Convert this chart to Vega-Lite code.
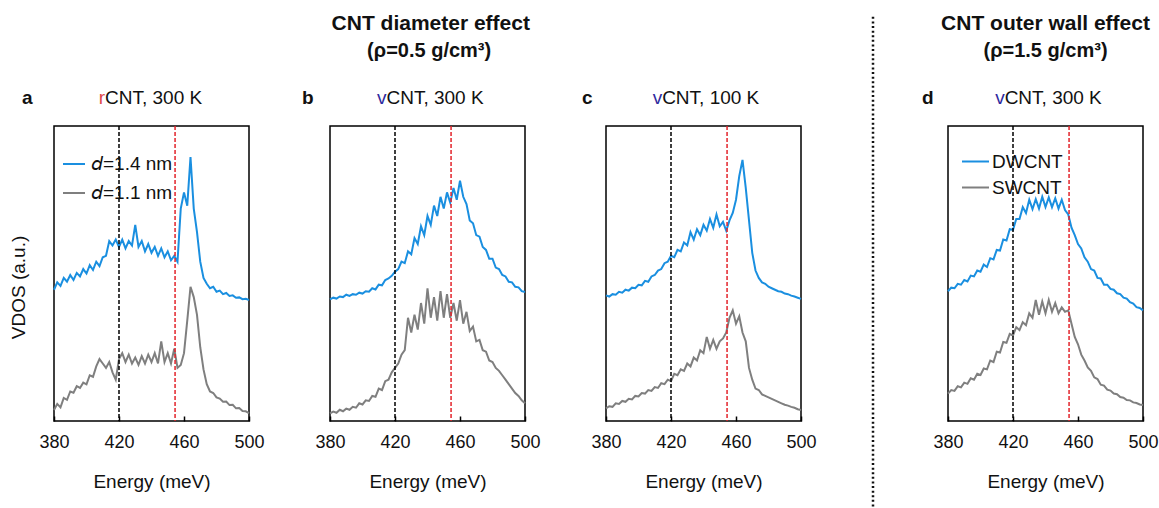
{
"$schema":"https://vega.github.io/schema/vega-lite/v6.json",
"padding":{"left":8,"top":12,"right":5,"bottom":0},
"config":{
 "font":"Liberation Sans",
 "view":{"stroke":"black","strokeWidth":1.5},
 "axis":{"labelFont":"Liberation Sans","titleFont":"Liberation Sans","labelColor":"#111","titleColor":"#111","labelFontSize":18,"titleFontSize":19,"titleFontWeight":"normal","grid":false,"labelFlush":false,"labelOverlap":false,"ticks":true},
 "legend":{"labelFont":"Liberation Sans","labelFontSize":19,"labelColor":"#111"}
},
"datasets":{
"a":[{"s":1,"e":380,"v":44.5},{"s":1,"e":382,"v":47},{"s":1,"e":384,"v":45.8},{"s":1,"e":386,"v":48.5},{"s":1,"e":388,"v":47.2},{"s":1,"e":390,"v":49.5},{"s":1,"e":392,"v":47.8},{"s":1,"e":394,"v":50.2},{"s":1,"e":396,"v":49},{"s":1,"e":398,"v":51.5},{"s":1,"e":400,"v":50},{"s":1,"e":402,"v":52.8},{"s":1,"e":404,"v":51.2},{"s":1,"e":406,"v":54},{"s":1,"e":408,"v":52.5},{"s":1,"e":410,"v":55.5},{"s":1,"e":412,"v":56},{"s":1,"e":414,"v":61},{"s":1,"e":416,"v":59.5},{"s":1,"e":418,"v":61.5},{"s":1,"e":420,"v":59},{"s":1,"e":422,"v":61.5},{"s":1,"e":424,"v":58.5},{"s":1,"e":426,"v":61},{"s":1,"e":428,"v":59.5},{"s":1,"e":430,"v":66.5},{"s":1,"e":432,"v":59},{"s":1,"e":434,"v":61},{"s":1,"e":436,"v":57.5},{"s":1,"e":438,"v":60},{"s":1,"e":440,"v":57},{"s":1,"e":442,"v":59},{"s":1,"e":444,"v":56},{"s":1,"e":446,"v":58.5},{"s":1,"e":448,"v":55.5},{"s":1,"e":450,"v":57.5},{"s":1,"e":452,"v":54.5},{"s":1,"e":454,"v":56},{"s":1,"e":456,"v":54},{"s":1,"e":458,"v":72},{"s":1,"e":460,"v":77.5},{"s":1,"e":462,"v":73},{"s":1,"e":464,"v":89.5},{"s":1,"e":466,"v":72},{"s":1,"e":468,"v":64},{"s":1,"e":470,"v":54},{"s":1,"e":472,"v":48.5},{"s":1,"e":474,"v":46.5},{"s":1,"e":476,"v":45},{"s":1,"e":478,"v":45.5},{"s":1,"e":480,"v":43.8},{"s":1,"e":482,"v":44.2},{"s":1,"e":484,"v":43},{"s":1,"e":486,"v":43.4},{"s":1,"e":488,"v":42.4},{"s":1,"e":490,"v":42.6},{"s":1,"e":492,"v":41.8},{"s":1,"e":494,"v":41.9},{"s":1,"e":496,"v":41.3},{"s":1,"e":498,"v":41.4},{"s":1,"e":500,"v":41},
{"s":2,"e":380,"v":3.7},{"s":2,"e":382,"v":5.8},{"s":2,"e":384,"v":4.6},{"s":2,"e":386,"v":7.8},{"s":2,"e":388,"v":7.2},{"s":2,"e":390,"v":10},{"s":2,"e":392,"v":9.6},{"s":2,"e":394,"v":11.8},{"s":2,"e":396,"v":11.2},{"s":2,"e":398,"v":13},{"s":2,"e":400,"v":12.4},{"s":2,"e":402,"v":15.5},{"s":2,"e":404,"v":15},{"s":2,"e":406,"v":18.5},{"s":2,"e":408,"v":21},{"s":2,"e":410,"v":19.5},{"s":2,"e":412,"v":18},{"s":2,"e":414,"v":20},{"s":2,"e":416,"v":16.5},{"s":2,"e":418,"v":14},{"s":2,"e":420,"v":21},{"s":2,"e":422,"v":23},{"s":2,"e":424,"v":20},{"s":2,"e":426,"v":22.5},{"s":2,"e":428,"v":19.5},{"s":2,"e":430,"v":21.5},{"s":2,"e":432,"v":19},{"s":2,"e":434,"v":22},{"s":2,"e":436,"v":19.5},{"s":2,"e":438,"v":22.5},{"s":2,"e":440,"v":20},{"s":2,"e":442,"v":23},{"s":2,"e":444,"v":19.5},{"s":2,"e":446,"v":27},{"s":2,"e":448,"v":20},{"s":2,"e":450,"v":23},{"s":2,"e":452,"v":19.5},{"s":2,"e":454,"v":24.5},{"s":2,"e":456,"v":18},{"s":2,"e":458,"v":19},{"s":2,"e":460,"v":23},{"s":2,"e":462,"v":34},{"s":2,"e":464,"v":45.5},{"s":2,"e":466,"v":42},{"s":2,"e":468,"v":36},{"s":2,"e":470,"v":25},{"s":2,"e":472,"v":17.5},{"s":2,"e":474,"v":12.5},{"s":2,"e":476,"v":10},{"s":2,"e":478,"v":9.5},{"s":2,"e":480,"v":8},{"s":2,"e":482,"v":7.6},{"s":2,"e":484,"v":6.5},{"s":2,"e":486,"v":6.6},{"s":2,"e":488,"v":5.4},{"s":2,"e":490,"v":5.5},{"s":2,"e":492,"v":4.3},{"s":2,"e":494,"v":4.4},{"s":2,"e":496,"v":3.4},{"s":2,"e":498,"v":3.3},{"s":2,"e":500,"v":2.7}],
"b":[{"s":1,"e":380,"v":41.2},{"s":1,"e":382,"v":41.8},{"s":1,"e":384,"v":41.5},{"s":1,"e":386,"v":42.2},{"s":1,"e":388,"v":42},{"s":1,"e":390,"v":42.8},{"s":1,"e":392,"v":42.4},{"s":1,"e":394,"v":43},{"s":1,"e":396,"v":42.8},{"s":1,"e":398,"v":43.5},{"s":1,"e":400,"v":43.2},{"s":1,"e":402,"v":44},{"s":1,"e":404,"v":43.8},{"s":1,"e":406,"v":45},{"s":1,"e":408,"v":44.6},{"s":1,"e":410,"v":46.2},{"s":1,"e":412,"v":46},{"s":1,"e":414,"v":47.8},{"s":1,"e":416,"v":48.3},{"s":1,"e":418,"v":49.2},{"s":1,"e":420,"v":50.6},{"s":1,"e":422,"v":51.5},{"s":1,"e":424,"v":54},{"s":1,"e":426,"v":53.5},{"s":1,"e":428,"v":57.5},{"s":1,"e":430,"v":56.5},{"s":1,"e":432,"v":62},{"s":1,"e":434,"v":60},{"s":1,"e":436,"v":66},{"s":1,"e":438,"v":63},{"s":1,"e":440,"v":69.5},{"s":1,"e":442,"v":66.5},{"s":1,"e":444,"v":73},{"s":1,"e":446,"v":69.5},{"s":1,"e":448,"v":76},{"s":1,"e":450,"v":72},{"s":1,"e":452,"v":77.5},{"s":1,"e":454,"v":74},{"s":1,"e":456,"v":79},{"s":1,"e":458,"v":75},{"s":1,"e":460,"v":81.5},{"s":1,"e":462,"v":76},{"s":1,"e":464,"v":73.5},{"s":1,"e":466,"v":68},{"s":1,"e":468,"v":67},{"s":1,"e":470,"v":63},{"s":1,"e":472,"v":62.5},{"s":1,"e":474,"v":59},{"s":1,"e":476,"v":58},{"s":1,"e":478,"v":55},{"s":1,"e":480,"v":55},{"s":1,"e":482,"v":52},{"s":1,"e":484,"v":51.5},{"s":1,"e":486,"v":49.5},{"s":1,"e":488,"v":49},{"s":1,"e":490,"v":47.2},{"s":1,"e":492,"v":47},{"s":1,"e":494,"v":45.5},{"s":1,"e":496,"v":45.3},{"s":1,"e":498,"v":44},{"s":1,"e":500,"v":43.7},
{"s":2,"e":380,"v":2.6},{"s":2,"e":382,"v":3.2},{"s":2,"e":384,"v":2.8},{"s":2,"e":386,"v":3.8},{"s":2,"e":388,"v":3.3},{"s":2,"e":390,"v":4.2},{"s":2,"e":392,"v":3.8},{"s":2,"e":394,"v":4.8},{"s":2,"e":396,"v":4.5},{"s":2,"e":398,"v":6},{"s":2,"e":400,"v":5.6},{"s":2,"e":402,"v":7},{"s":2,"e":404,"v":6.8},{"s":2,"e":406,"v":8.5},{"s":2,"e":408,"v":8.2},{"s":2,"e":410,"v":11},{"s":2,"e":412,"v":10.5},{"s":2,"e":414,"v":13.5},{"s":2,"e":416,"v":14},{"s":2,"e":418,"v":16.5},{"s":2,"e":420,"v":18},{"s":2,"e":422,"v":19.5},{"s":2,"e":424,"v":22.5},{"s":2,"e":426,"v":24},{"s":2,"e":428,"v":35},{"s":2,"e":430,"v":30},{"s":2,"e":432,"v":36},{"s":2,"e":434,"v":31},{"s":2,"e":436,"v":40},{"s":2,"e":438,"v":33},{"s":2,"e":440,"v":45},{"s":2,"e":442,"v":35},{"s":2,"e":444,"v":42},{"s":2,"e":446,"v":34},{"s":2,"e":448,"v":44},{"s":2,"e":450,"v":35},{"s":2,"e":452,"v":43},{"s":2,"e":454,"v":35},{"s":2,"e":456,"v":40},{"s":2,"e":458,"v":34},{"s":2,"e":460,"v":41},{"s":2,"e":462,"v":33},{"s":2,"e":464,"v":37},{"s":2,"e":466,"v":30.5},{"s":2,"e":468,"v":32},{"s":2,"e":470,"v":27},{"s":2,"e":472,"v":27.5},{"s":2,"e":474,"v":24},{"s":2,"e":476,"v":23.5},{"s":2,"e":478,"v":20.5},{"s":2,"e":480,"v":20},{"s":2,"e":482,"v":18},{"s":2,"e":484,"v":17},{"s":2,"e":486,"v":15.5},{"s":2,"e":488,"v":14},{"s":2,"e":490,"v":12.5},{"s":2,"e":492,"v":11},{"s":2,"e":494,"v":9.5},{"s":2,"e":496,"v":8.5},{"s":2,"e":498,"v":7},{"s":2,"e":500,"v":6}],
"c":[{"s":1,"e":380,"v":42.6},{"s":1,"e":382,"v":42.2},{"s":1,"e":384,"v":43},{"s":1,"e":386,"v":42.8},{"s":1,"e":388,"v":43.8},{"s":1,"e":390,"v":43.5},{"s":1,"e":392,"v":44.5},{"s":1,"e":394,"v":44.2},{"s":1,"e":396,"v":45.2},{"s":1,"e":398,"v":45},{"s":1,"e":400,"v":46.2},{"s":1,"e":402,"v":46},{"s":1,"e":404,"v":47.5},{"s":1,"e":406,"v":47.2},{"s":1,"e":408,"v":49},{"s":1,"e":410,"v":49.5},{"s":1,"e":412,"v":51},{"s":1,"e":414,"v":51.5},{"s":1,"e":416,"v":53.5},{"s":1,"e":418,"v":54},{"s":1,"e":420,"v":56},{"s":1,"e":422,"v":55.5},{"s":1,"e":424,"v":58},{"s":1,"e":426,"v":57.5},{"s":1,"e":428,"v":60.5},{"s":1,"e":430,"v":59.5},{"s":1,"e":432,"v":64},{"s":1,"e":434,"v":61.5},{"s":1,"e":436,"v":65},{"s":1,"e":438,"v":63},{"s":1,"e":440,"v":66.5},{"s":1,"e":442,"v":64.5},{"s":1,"e":444,"v":68.5},{"s":1,"e":446,"v":65.5},{"s":1,"e":448,"v":70},{"s":1,"e":450,"v":66},{"s":1,"e":452,"v":67.5},{"s":1,"e":454,"v":64.5},{"s":1,"e":456,"v":68},{"s":1,"e":458,"v":70.5},{"s":1,"e":460,"v":75},{"s":1,"e":462,"v":83},{"s":1,"e":464,"v":88.5},{"s":1,"e":466,"v":79},{"s":1,"e":468,"v":68},{"s":1,"e":470,"v":57},{"s":1,"e":472,"v":51},{"s":1,"e":474,"v":48.5},{"s":1,"e":476,"v":47},{"s":1,"e":478,"v":46.5},{"s":1,"e":480,"v":45.5},{"s":1,"e":482,"v":45},{"s":1,"e":484,"v":44.5},{"s":1,"e":486,"v":44},{"s":1,"e":488,"v":43.8},{"s":1,"e":490,"v":43.2},{"s":1,"e":492,"v":43},{"s":1,"e":494,"v":42.5},{"s":1,"e":496,"v":42.2},{"s":1,"e":498,"v":41.8},{"s":1,"e":500,"v":41.4},
{"s":2,"e":380,"v":4.3},{"s":2,"e":382,"v":5},{"s":2,"e":384,"v":4.8},{"s":2,"e":386,"v":6},{"s":2,"e":388,"v":5.8},{"s":2,"e":390,"v":6.8},{"s":2,"e":392,"v":6.5},{"s":2,"e":394,"v":7.5},{"s":2,"e":396,"v":7.3},{"s":2,"e":398,"v":8.5},{"s":2,"e":400,"v":8.3},{"s":2,"e":402,"v":9.5},{"s":2,"e":404,"v":9.3},{"s":2,"e":406,"v":10.5},{"s":2,"e":408,"v":10.2},{"s":2,"e":410,"v":11.5},{"s":2,"e":412,"v":11.2},{"s":2,"e":414,"v":12.8},{"s":2,"e":416,"v":12.5},{"s":2,"e":418,"v":14},{"s":2,"e":420,"v":13.5},{"s":2,"e":422,"v":16},{"s":2,"e":424,"v":15.5},{"s":2,"e":426,"v":17.5},{"s":2,"e":428,"v":17},{"s":2,"e":430,"v":19.5},{"s":2,"e":432,"v":18.5},{"s":2,"e":434,"v":21.5},{"s":2,"e":436,"v":20.5},{"s":2,"e":438,"v":24},{"s":2,"e":440,"v":23},{"s":2,"e":442,"v":28.5},{"s":2,"e":444,"v":24.5},{"s":2,"e":446,"v":27.5},{"s":2,"e":448,"v":24.5},{"s":2,"e":450,"v":27},{"s":2,"e":452,"v":28},{"s":2,"e":454,"v":30},{"s":2,"e":456,"v":35},{"s":2,"e":458,"v":37.5},{"s":2,"e":460,"v":33},{"s":2,"e":462,"v":35.5},{"s":2,"e":464,"v":30},{"s":2,"e":466,"v":27},{"s":2,"e":468,"v":18},{"s":2,"e":470,"v":14},{"s":2,"e":472,"v":11},{"s":2,"e":474,"v":10.5},{"s":2,"e":476,"v":9},{"s":2,"e":478,"v":8.5},{"s":2,"e":480,"v":8},{"s":2,"e":482,"v":7.5},{"s":2,"e":484,"v":7},{"s":2,"e":486,"v":6.5},{"s":2,"e":488,"v":6},{"s":2,"e":490,"v":5.5},{"s":2,"e":492,"v":5.2},{"s":2,"e":494,"v":4.8},{"s":2,"e":496,"v":4.5},{"s":2,"e":498,"v":4},{"s":2,"e":500,"v":3.7}],
"d":[{"s":1,"e":380,"v":44},{"s":1,"e":382,"v":45.2},{"s":1,"e":384,"v":45},{"s":1,"e":386,"v":46.5},{"s":1,"e":388,"v":46.2},{"s":1,"e":390,"v":47.8},{"s":1,"e":392,"v":47.3},{"s":1,"e":394,"v":49.3},{"s":1,"e":396,"v":49},{"s":1,"e":398,"v":51},{"s":1,"e":400,"v":50.6},{"s":1,"e":402,"v":53},{"s":1,"e":404,"v":52.2},{"s":1,"e":406,"v":55.2},{"s":1,"e":408,"v":54.8},{"s":1,"e":410,"v":58},{"s":1,"e":412,"v":57.8},{"s":1,"e":414,"v":61.5},{"s":1,"e":416,"v":61.2},{"s":1,"e":418,"v":65},{"s":1,"e":420,"v":64.8},{"s":1,"e":422,"v":68.5},{"s":1,"e":424,"v":68.5},{"s":1,"e":426,"v":72.5},{"s":1,"e":428,"v":70.5},{"s":1,"e":430,"v":75},{"s":1,"e":432,"v":71.8},{"s":1,"e":434,"v":75.2},{"s":1,"e":436,"v":72},{"s":1,"e":438,"v":76},{"s":1,"e":440,"v":72.5},{"s":1,"e":442,"v":75.8},{"s":1,"e":444,"v":72.5},{"s":1,"e":446,"v":75.5},{"s":1,"e":448,"v":72},{"s":1,"e":450,"v":75},{"s":1,"e":452,"v":71.5},{"s":1,"e":454,"v":70},{"s":1,"e":456,"v":65.5},{"s":1,"e":458,"v":63},{"s":1,"e":460,"v":60},{"s":1,"e":462,"v":58.5},{"s":1,"e":464,"v":55.5},{"s":1,"e":466,"v":54},{"s":1,"e":468,"v":51.5},{"s":1,"e":470,"v":51},{"s":1,"e":472,"v":48.5},{"s":1,"e":474,"v":48.3},{"s":1,"e":476,"v":46.2},{"s":1,"e":478,"v":46.2},{"s":1,"e":480,"v":44.8},{"s":1,"e":482,"v":44.5},{"s":1,"e":484,"v":43.3},{"s":1,"e":486,"v":43},{"s":1,"e":488,"v":41.8},{"s":1,"e":490,"v":41.5},{"s":1,"e":492,"v":40.3},{"s":1,"e":494,"v":39.8},{"s":1,"e":496,"v":38.6},{"s":1,"e":498,"v":38.3},{"s":1,"e":500,"v":37.5},
{"s":2,"e":380,"v":9.3},{"s":2,"e":382,"v":10.5},{"s":2,"e":384,"v":10.2},{"s":2,"e":386,"v":11.8},{"s":2,"e":388,"v":11.4},{"s":2,"e":390,"v":13},{"s":2,"e":392,"v":12.6},{"s":2,"e":394,"v":14.5},{"s":2,"e":396,"v":14},{"s":2,"e":398,"v":16},{"s":2,"e":400,"v":15.6},{"s":2,"e":402,"v":17.8},{"s":2,"e":404,"v":17.5},{"s":2,"e":406,"v":20.5},{"s":2,"e":408,"v":20},{"s":2,"e":410,"v":23.5},{"s":2,"e":412,"v":23.2},{"s":2,"e":414,"v":26.8},{"s":2,"e":416,"v":26.5},{"s":2,"e":418,"v":29.5},{"s":2,"e":420,"v":29},{"s":2,"e":422,"v":31.8},{"s":2,"e":424,"v":30.8},{"s":2,"e":426,"v":33.5},{"s":2,"e":428,"v":32.5},{"s":2,"e":430,"v":36.5},{"s":2,"e":432,"v":35},{"s":2,"e":434,"v":41},{"s":2,"e":436,"v":36},{"s":2,"e":438,"v":40.5},{"s":2,"e":440,"v":36.5},{"s":2,"e":442,"v":41},{"s":2,"e":444,"v":37},{"s":2,"e":446,"v":40},{"s":2,"e":448,"v":36.5},{"s":2,"e":450,"v":38.5},{"s":2,"e":452,"v":37},{"s":2,"e":454,"v":37.5},{"s":2,"e":456,"v":33},{"s":2,"e":458,"v":28.5},{"s":2,"e":460,"v":26},{"s":2,"e":462,"v":22.5},{"s":2,"e":464,"v":20.5},{"s":2,"e":466,"v":18.2},{"s":2,"e":468,"v":17},{"s":2,"e":470,"v":14.8},{"s":2,"e":472,"v":14.2},{"s":2,"e":474,"v":12.3},{"s":2,"e":476,"v":12},{"s":2,"e":478,"v":10.6},{"s":2,"e":480,"v":10.3},{"s":2,"e":482,"v":9.3},{"s":2,"e":484,"v":9.1},{"s":2,"e":486,"v":8.1},{"s":2,"e":488,"v":7.9},{"s":2,"e":490,"v":7.1},{"s":2,"e":492,"v":7},{"s":2,"e":494,"v":6.3},{"s":2,"e":496,"v":6.1},{"s":2,"e":498,"v":5.6},{"s":2,"e":500,"v":5.4}]
},
"bounds":"flush",
"spacing":0,
"resolve":{"scale":{"color":"independent","x":"independent","y":"independent"}},
"hconcat":[
  {"width":195,"height":295,"layer":[
   {"data":{"name":"a"},"mark":{"type":"line","strokeWidth":2},
    "encoding":{
     "x":{"field":"e","type":"quantitative","scale":{"domain":[380,500],"nice":false,"zero":false},"axis":{"values":[380,420,460,500],"title":"Energy (meV)","tickSize":-5,"tickColor":"black","tickWidth":1.5,"domain":false,"labelPadding":17,"titlePadding":21}},
     "y":{"field":"v","type":"quantitative","scale":{"domain":[0,100],"nice":false,"zero":false},"axis":{"title":"VDOS (a.u.)","labels":false,"ticks":false,"domain":false,"titleX":-26,"titleY":161,"titleFontSize":19}},
     "color":{"field":"s","type":"nominal","scale":{"domain":[1,2],"range":["#1a8fe0","#7f7f7f"]},"legend":{"orient":"none","legendX":8,"legendY":26,"title":null,"symbolType":"stroke","symbolSize":484,"symbolStrokeWidth":2,"labelOffset":5,"rowPadding":7,"padding":0,"labelExpr":"datum.label == '1' ? '𝘥=1.4 nm' : '𝘥=1.1 nm'"}}
    }},
   {"data":{"values":[{}]},"mark":{"type":"rule","strokeDash":[4,2],"strokeWidth":1.5,"color":"black"},"encoding":{"x":{"datum":420}}},
   {"data":{"values":[{}]},"mark":{"type":"rule","strokeDash":[4,2],"strokeWidth":1.5,"color":"#e3242b"},"encoding":{"x":{"datum":454.5}}},
   {"data":{"values":[{}]},"mark":{"type":"text","text":"a","align":"left","baseline":"alphabetic","fontSize":19,"fontWeight":"bold","color":"#111"},"encoding":{"x":{"datum":360.3},"y":{"datum":107.5}}},
   {"data":{"values":[{}]},"mark":{"type":"text","text":"r","align":"left","baseline":"alphabetic","fontSize":19,"color":"#e04848"},"encoding":{"x":{"datum":407.5},"y":{"datum":107.5}}},
   {"data":{"values":[{}]},"mark":{"type":"text","text":"CNT, 300 K","align":"left","baseline":"alphabetic","fontSize":19,"color":"#111"},"encoding":{"x":{"datum":411.4},"y":{"datum":107.5}}}
  ]},
  {"width":81,"height":295,"view":{"stroke":null},"data":{"values":[]},"mark":"point","encoding":{}},
  {"width":195,"height":295,"layer":[
   {"data":{"name":"b"},"mark":{"type":"line","strokeWidth":2},
    "encoding":{
     "x":{"field":"e","type":"quantitative","scale":{"domain":[380,500],"nice":false,"zero":false},"axis":{"values":[380,420,460,500],"title":"Energy (meV)","tickSize":-5,"tickColor":"black","tickWidth":1.5,"domain":false,"labelPadding":17,"titlePadding":21}},
     "y":{"field":"v","type":"quantitative","scale":{"domain":[0,100],"nice":false,"zero":false},"axis":null},
     "color":{"field":"s","type":"nominal","scale":{"domain":[1,2],"range":["#1a8fe0","#7f7f7f"]},"legend":null}
    }},
   {"data":{"values":[{}]},"mark":{"type":"rule","strokeDash":[4,2],"strokeWidth":1.5,"color":"black"},"encoding":{"x":{"datum":420}}},
   {"data":{"values":[{}]},"mark":{"type":"rule","strokeDash":[4,2],"strokeWidth":1.5,"color":"#e3242b"},"encoding":{"x":{"datum":454.5}}},
   {"data":{"values":[{}]},"mark":{"type":"text","text":"b","align":"left","baseline":"alphabetic","fontSize":19,"fontWeight":"bold","color":"#111"},"encoding":{"x":{"datum":362.8},"y":{"datum":107.5}}},
   {"data":{"values":[{}]},"mark":{"type":"text","text":"v","align":"left","baseline":"alphabetic","fontSize":19,"color":"#2f2a9e"},"encoding":{"x":{"datum":408.9},"y":{"datum":107.5}}},
   {"data":{"values":[{}]},"mark":{"type":"text","text":"CNT, 300 K","align":"left","baseline":"alphabetic","fontSize":19,"color":"#111"},"encoding":{"x":{"datum":414.75},"y":{"datum":107.5}}},
   {"data":{"values":[{}]},"mark":{"type":"text","text":"CNT diameter effect","align":"center","baseline":"alphabetic","fontSize":21,"fontWeight":"bold","color":"#111"},"encoding":{"x":{"datum":442},"y":{"datum":132.5}}},
   {"data":{"values":[{}]},"mark":{"type":"text","text":"(ρ=0.5 g/cm³)","align":"center","baseline":"alphabetic","fontSize":20,"fontWeight":"bold","color":"#111"},"encoding":{"x":{"datum":441},"y":{"datum":123.4}}}
  ]},
  {"width":81,"height":295,"view":{"stroke":null},"data":{"values":[]},"mark":"point","encoding":{}},
  {"width":195,"height":295,"layer":[
   {"data":{"name":"c"},"mark":{"type":"line","strokeWidth":2},
    "encoding":{
     "x":{"field":"e","type":"quantitative","scale":{"domain":[380,500],"nice":false,"zero":false},"axis":{"values":[380,420,460,500],"title":"Energy (meV)","tickSize":-5,"tickColor":"black","tickWidth":1.5,"domain":false,"labelPadding":17,"titlePadding":21}},
     "y":{"field":"v","type":"quantitative","scale":{"domain":[0,100],"nice":false,"zero":false},"axis":null},
     "color":{"field":"s","type":"nominal","scale":{"domain":[1,2],"range":["#1a8fe0","#7f7f7f"]},"legend":null}
    }},
   {"data":{"values":[{}]},"mark":{"type":"rule","strokeDash":[4,2],"strokeWidth":1.5,"color":"black"},"encoding":{"x":{"datum":420}}},
   {"data":{"values":[{}]},"mark":{"type":"rule","strokeDash":[4,2],"strokeWidth":1.5,"color":"#e3242b"},"encoding":{"x":{"datum":454.5}}},
   {"data":{"values":[{}]},"mark":{"type":"text","text":"c","align":"left","baseline":"alphabetic","fontSize":19,"fontWeight":"bold","color":"#111"},"encoding":{"x":{"datum":365.2},"y":{"datum":107.5}}},
   {"data":{"values":[{}]},"mark":{"type":"text","text":"v","align":"left","baseline":"alphabetic","fontSize":19,"color":"#2f2a9e"},"encoding":{"x":{"datum":408.7},"y":{"datum":107.5}}},
   {"data":{"values":[{}]},"mark":{"type":"text","text":"CNT, 100 K","align":"left","baseline":"alphabetic","fontSize":19,"color":"#111"},"encoding":{"x":{"datum":414.55},"y":{"datum":107.5}}}
  ]},
  {"width":147,"height":295,"view":{"stroke":null},"data":{"values":[{}]},
   "mark":{"type":"rule","strokeDash":[2,2.6],"strokeWidth":2.5,"color":"#111"},
   "encoding":{
    "x":{"datum":72,"type":"quantitative","scale":{"domain":[0,147]},"axis":null},
    "y":{"datum":137,"type":"quantitative","scale":{"domain":[0,100],"nice":false,"zero":false},"axis":null},
    "y2":{"datum":-30}
   }},
  {"width":195,"height":295,"layer":[
   {"data":{"name":"d"},"mark":{"type":"line","strokeWidth":2},
    "encoding":{
     "x":{"field":"e","type":"quantitative","scale":{"domain":[380,500],"nice":false,"zero":false},"axis":{"values":[380,420,460,500],"title":"Energy (meV)","tickSize":-5,"tickColor":"black","tickWidth":1.5,"domain":false,"labelPadding":17,"titlePadding":21}},
     "y":{"field":"v","type":"quantitative","scale":{"domain":[0,100],"nice":false,"zero":false},"axis":null},
     "color":{"field":"s","type":"nominal","scale":{"domain":[1,2],"range":["#1a8fe0","#7f7f7f"]},"legend":{"orient":"none","legendX":13,"legendY":21,"title":null,"symbolType":"stroke","symbolSize":729,"symbolStrokeWidth":2,"labelOffset":2,"rowPadding":1,"padding":0,"labelExpr":"datum.label == '1' ? 'DWCNT' : 'SWCNT'"}}
    }},
   {"data":{"values":[{}]},"mark":{"type":"rule","strokeDash":[4,2],"strokeWidth":1.5,"color":"black"},"encoding":{"x":{"datum":420}}},
   {"data":{"values":[{}]},"mark":{"type":"rule","strokeDash":[4,2],"strokeWidth":1.5,"color":"#e3242b"},"encoding":{"x":{"datum":454.5}}},
   {"data":{"values":[{}]},"mark":{"type":"text","text":"d","align":"left","baseline":"alphabetic","fontSize":19,"fontWeight":"bold","color":"#111"},"encoding":{"x":{"datum":364},"y":{"datum":107.5}}},
   {"data":{"values":[{}]},"mark":{"type":"text","text":"v","align":"left","baseline":"alphabetic","fontSize":19,"color":"#2f2a9e"},"encoding":{"x":{"datum":409},"y":{"datum":107.5}}},
   {"data":{"values":[{}]},"mark":{"type":"text","text":"CNT, 300 K","align":"left","baseline":"alphabetic","fontSize":19,"color":"#111"},"encoding":{"x":{"datum":414.85},"y":{"datum":107.5}}},
   {"data":{"values":[{}]},"mark":{"type":"text","text":"CNT outer wall effect","align":"center","baseline":"alphabetic","fontSize":21,"fontWeight":"bold","color":"#111"},"encoding":{"x":{"datum":440},"y":{"datum":132.5}}},
   {"data":{"values":[{}]},"mark":{"type":"text","text":"(ρ=1.5 g/cm³)","align":"center","baseline":"alphabetic","fontSize":20,"fontWeight":"bold","color":"#111"},"encoding":{"x":{"datum":440},"y":{"datum":123.4}}}
  ]}
]
}
